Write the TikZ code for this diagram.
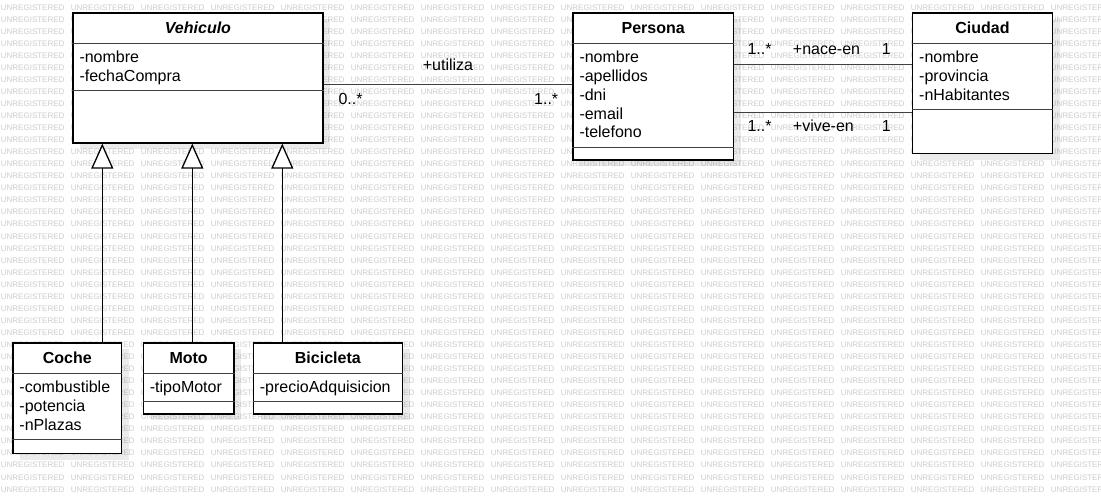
\documentclass[tikz,border=0pt]{standalone}
\usepackage{fontspec}
\setmainfont{Liberation Sans}
\usetikzlibrary{arrows.meta,calc}
\definecolor{wm}{RGB}{205,205,205}
\definecolor{conn}{RGB}{64,64,64}
\tikzset{
  wmtext/.style={anchor=west, inner sep=0pt, text=wm, font=\fontsize{8}{9}\selectfont},
  classbox/.style={draw=black, fill=white, line width=1.3pt, inner sep=0pt, rectangle},
  shadowc/.style={fill=black, opacity=0.08},
  sepline/.style={draw=conn, line width=1.3pt},
  attr/.style={anchor=base west, inner sep=0pt, font=\fontsize{16}{18}\selectfont},
  ctitle/.style={anchor=base, inner sep=0pt, font=\fontsize{16}{18}\selectfont\bfseries},
  lbl/.style={anchor=base west, inner sep=0pt, font=\fontsize{16}{18}\selectfont},
  assoc/.style={draw=conn, line width=1.5pt},
  gen/.style={draw=black, line width=1.3pt, -{Triangle[length=25pt,width=22pt,fill=white,line join=miter]}}
}
% #1 name, #2 x1, #3 y1, #4 x2, #5 y2, #6 sep1, #7 sep2
\newcommand\umlclass[7]{%
  \fill[shadowc] (#2+8,#3+7) rectangle (#4+8,#5+7);
  \node[classbox, anchor=north west, minimum width={#4-#2}, minimum height={#5-#3}] (#1) at (#2,#3) {};
  \draw[sepline] (#1.west |- 0,#6) -- (#1.east |- 0,#6);
  \draw[sepline] (#1.west |- 0,#7) -- (#1.east |- 0,#7);
}
\begin{document}
\begin{tikzpicture}[x=1pt,y=-1pt]
\useasboundingbox (0,0) rectangle (1101,502);
\fill[white] (0,0) rectangle (1101,502);
% watermark
\foreach \i in {0,...,40}{
  \foreach \j in {0,...,15}{
    \node[wmtext] (wm-\i-\j) at ({0.7+70*\j},{7.3+12.05*\i}) {UNREGISTERED};
  }
}
% classes
\umlclass{veh}{72.3}{12.3}{322.3}{142.3}{43.3}{90.7}
\umlclass{per}{572.3}{12.3}{732.7}{159.3}{43.3}{147.3}
\umlclass{ciu}{912}{12.3}{1051.7}{152.7}{43.3}{109.3}
\umlclass{coche}{12.3}{342.3}{121}{452.7}{373.3}{439.3}
\umlclass{moto}{142.7}{342.3}{233.3}{413.3}{373.3}{401.7}
\umlclass{bici}{252.7}{342.3}{401.7}{413.3}{373.3}{401.7}

% titles
\node[ctitle] (veh-t) at (veh.north |- 0,33.3) {\itshape Vehiculo};
\node[ctitle] (per-t) at (per.north |- 0,33.3) {Persona};
\node[ctitle] (ciu-t) at (ciu.north |- 0,33.3) {Ciudad};
\node[ctitle] (coche-t) at (coche.north |- 0,363.3) {Coche};
\node[ctitle] (moto-t) at (moto.north |- 0,363.3) {Moto};
\node[ctitle] (bici-t) at (bici.north |- 0,363.3) {Bicicleta};

% attributes
\node[attr] (veh-a1) at (79.3,63) {-nombre};
\node[attr] (veh-a2) at (79.3,81.5) {-fechaCompra};

\node[attr] (per-a1) at (579.3,63) {-nombre};
\node[attr] (per-a2) at (579.3,81.7) {-apellidos};
\node[attr] (per-a3) at (579.3,100.4) {-dni};
\node[attr] (per-a4) at (579.3,119.1) {-email};
\node[attr] (per-a5) at (579.3,137.8) {-telefono};

\node[attr] (ciu-a1) at (919,63) {-nombre};
\node[attr] (ciu-a2) at (919,81.7) {-provincia};
\node[attr] (ciu-a3) at (919,100.4) {-nHabitantes};

\node[attr] (coche-a1) at (19.3,392.7) {-combustible};
\node[attr] (coche-a2) at (19.3,411.4) {-potencia};
\node[attr] (coche-a3) at (19.3,430.1) {-nPlazas};

\node[attr] (moto-a1) at (149.7,392.7) {-tipoMotor};
\node[attr] (bici-a1) at (259.7,392.7) {-precioAdquisicion};

% associations
\draw[assoc] (veh.east |- 0,84.3) -- (per.west |- 0,84.3);
\node[lbl, anchor=base] (l-util) at (448,70.7) {+utiliza};
\node[lbl] (l-util-a) at (338.3,104.3) {0..*};
\node[lbl] (l-util-b) at (534,104.3) {1..*};

\draw[assoc] (per.east |- 0,64.3) -- (ciu.west |- 0,64.3);
\node[lbl] (l-nace-a) at (747.3,54.3) {1..*};
\node[lbl] (l-nace) at (792.7,54.3) {+nace-en};
\node[lbl] (l-nace-b) at (881.7,54.3) {1};

\draw[assoc] (per.east |- 0,112.7) -- (ciu.west |- 0,112.7);
\node[lbl] (l-vive-a) at (747.3,131.7) {1..*};
\node[lbl] (l-vive) at (792.7,131.7) {+vive-en};
\node[lbl] (l-vive-b) at (881.7,131.7) {1};

% generalizations
\coordinate (g1) at (102.3,0);
\coordinate (g2) at (192.3,0);
\coordinate (g3) at (282.3,0);
\draw[gen] (g1 |- coche.north) -- (g1 |- veh.south);
\draw[gen] (g2 |- moto.north) -- (g2 |- veh.south);
\draw[gen] (g3 |- bici.north) -- (g3 |- veh.south);
\end{tikzpicture}
\end{document}
